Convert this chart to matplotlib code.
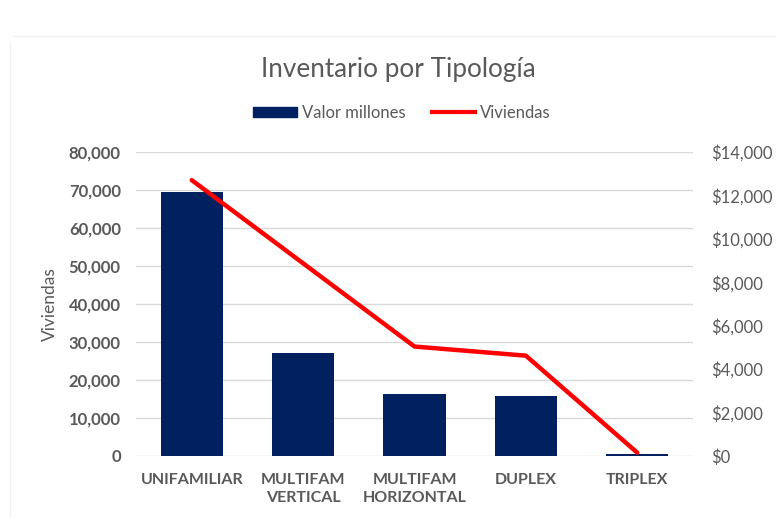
import matplotlib
matplotlib.use("Agg")
import matplotlib.pyplot as plt
from matplotlib.ticker import FuncFormatter, MultipleLocator
from matplotlib.lines import Line2D
from matplotlib.patches import Patch

categories = ["UNIFAMILIAR", "MULTIFAM\nVERTICAL", "MULTIFAM\nHORIZONTAL", "DUPLEX", "TRIPLEX"]
valor_millones = [12145, 4755, 2870, 2750, 90]
viviendas = [72600, 50700, 28800, 26400, 870]

plt.rcParams['font.family'] = ['Lato', 'DejaVu Sans']
gray = "#595959"
navy = "#002060"
red = "#FF0000"

fig = plt.figure(figsize=(7.76, 5.18), dpi=100)
ax = fig.add_axes([0.1753, 0.1197, 0.7177, 0.5869])
ax2 = ax.twinx()

x = list(range(len(categories)))
ax2.bar(x, valor_millones, width=0.56, color=navy, zorder=2)
ax.plot(x, viviendas, color=red, linewidth=3.2, solid_capstyle='round', zorder=3)

ax.set_zorder(ax2.get_zorder() + 1)
ax.patch.set_visible(False)

ax.set_xlim(-0.5, 4.5)
ax.set_ylim(0, 80000)
ax2.set_ylim(0, 14000)
ax.yaxis.set_major_locator(MultipleLocator(10000))
ax2.yaxis.set_major_locator(MultipleLocator(2000))

ax.yaxis.set_major_formatter(FuncFormatter(lambda v, p: f"{int(v):,}"))
ax2.yaxis.set_major_formatter(FuncFormatter(lambda v, p: f"${int(v):,}"))

# gridlines drawn on the bar axis so they sit below bars
for v in range(0, 80001, 10000):
    ax2.axhline(v * 14000 / 80000, color="#d9d9d9", linewidth=1.0, zorder=0)

for a in (ax, ax2):
    for s in a.spines.values():
        s.set_visible(False)
    a.tick_params(length=0)

ax.set_xticks(x)
ax.set_xticklabels(categories, fontsize=11.5, fontweight='bold', color=gray, linespacing=1.4)
ax.tick_params(axis='x', pad=12)
ax.tick_params(axis='y', labelsize=12, labelcolor=gray, pad=11)
for t in ax.get_yticklabels():
    t.set_fontweight('bold')
ax2.tick_params(axis='y', labelsize=12, labelcolor=gray, pad=13)

ax.set_ylabel("Viviendas", fontsize=12.5, color=gray, labelpad=8)

fig.text(0.513, 0.866, "Inventario por Tipología", fontsize=18.8, color=gray,
         ha='center', va='center')

handles = [Patch(facecolor=navy, edgecolor=navy), Line2D([0], [0], color=red, linewidth=3)]
fig.legend(handles, ["Valor millones", "Viviendas"], loc='center', bbox_to_anchor=(0.518, 0.782),
           ncol=2, frameon=False, fontsize=12, labelcolor=gray, handlelength=2.6,
           handleheight=0.6, handletextpad=0.3, columnspacing=1.6)

# faint chart border
fig.add_artist(Line2D([13/776, 1], [1-36/518, 1-36/518], color="#f0f0f0", linewidth=1))
fig.add_artist(Line2D([10/776, 10/776], [0, 1-43/518], color="#f0f0f0", linewidth=1))

fig.savefig("out.png", dpi=100)
